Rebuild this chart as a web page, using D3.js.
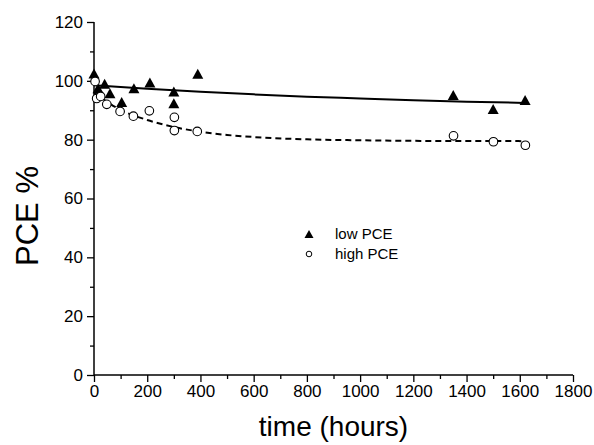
<!DOCTYPE html>
<html>
<head>
<meta charset="utf-8">
<script src="https://cdn.jsdelivr.net/npm/d3@7"></script>
<style>
  body { margin: 0; background: #fff; }
  text { font-family: "Liberation Sans", Arial, sans-serif; fill: #000; }
</style>
</head>
<body>
<svg id="chart"></svg>
<script>
// measured points, [time (h), PCE %]
const lowPCE = [
  [0, 102.5], [15, 97.5], [40, 99], [60, 95.8], [104, 92.8], [150, 97.5],
  [210, 99.4], [300, 96.4], [300, 92.4], [390, 102.4], [1350, 95.2],
  [1500, 90.4], [1620, 93.5]
];
const highPCE = [
  [4, 99.8], [10, 94], [25, 94.7], [48, 92], [98, 89.6], [148, 88],
  [208, 89.8], [302, 87.6], [302, 83.1], [388, 82.8], [1351, 81.3],
  [1501, 79.3], [1621, 78.1]
];
// fitted curves
const lowFit = [
  [0, 98.5], [200, 97.3], [400, 96.3], [600, 95.4], [800, 94.6],
  [1000, 94.0], [1200, 93.4], [1400, 92.9], [1620, 92.5]
];
const highFit = [
  [0, 96], [100, 90.1], [200, 86.7], [300, 84.3], [400, 82.7], [500, 81.6],
  [600, 80.9], [800, 80.1], [1000, 79.8], [1200, 79.6], [1400, 79.55], [1620, 79.5]
];
const xTicks = [0, 200, 400, 600, 800, 1000, 1200, 1400, 1600, 1800];
const yTicks = [0, 20, 40, 60, 80, 100, 120];
const legendLabels = ["low PCE", "high PCE"];

const width = 594, height = 445;
const margin = { top: 22, right: 21, bottom: 70, left: 94 };

const svg = d3.select("#chart").attr("width", width).attr("height", height);

const x = d3.scaleLinear().domain([0, 1800]).range([margin.left, width - margin.right]);
const y = d3.scaleLinear().domain([0, 120]).range([height - margin.bottom, margin.top]);

// minor ticks
const xAxisG = svg.append("g")
  .attr("transform", `translate(0,${y(0)})`)
  .call(d3.axisBottom(x).tickValues(d3.range(100, 1800, 200)).tickSize(4).tickFormat(""));
const yAxisG = svg.append("g")
  .attr("transform", `translate(${x(0)},0)`)
  .call(d3.axisLeft(y).tickValues(d3.range(10, 120, 20)).tickSize(4).tickFormat(""));

// major ticks
const xMajor = svg.append("g")
  .attr("transform", `translate(0,${y(0)})`)
  .call(d3.axisBottom(x).tickValues(xTicks).tickSize(7).tickPadding(3).tickFormat(d3.format("d")));
const yMajor = svg.append("g")
  .attr("transform", `translate(${x(0)},0)`)
  .call(d3.axisLeft(y).tickValues(yTicks).tickSize(7).tickPadding(4).tickFormat(d3.format("d")));

svg.selectAll(".domain").attr("stroke", "#000").attr("stroke-width", 1.5);
svg.selectAll(".tick line").attr("stroke", "#000").attr("stroke-width", 1.3);
svg.selectAll(".tick text").attr("font-size", 17).attr("font-family", "Liberation Sans, Arial, sans-serif");
xAxisG.select(".domain").remove();
yAxisG.select(".domain").remove();
xMajor.select(".domain").attr("d", `M${x(0)},0H${x(1800)}`);
yMajor.select(".domain").attr("d", `M0,${y(0)}V${y(120)}`);

// axis titles
svg.append("text")
  .attr("x", (x(0) + x(1800)) / 2)
  .attr("y", 436)
  .attr("text-anchor", "middle")
  .attr("font-size", 28)
  .text("time (hours)");

svg.append("text")
  .attr("transform", `translate(38,216) rotate(-90)`)
  .attr("text-anchor", "middle")
  .attr("font-size", 31)
  .text("PCE %");

// fit lines
const line = d3.line()
  .x(d => x(d[0]))
  .y(d => y(d[1]))
  .curve(d3.curveMonotoneX);

svg.append("path")
  .datum(lowFit)
  .attr("d", line)
  .attr("fill", "none")
  .attr("stroke", "#000")
  .attr("stroke-width", 2);

svg.append("path")
  .datum(highFit)
  .attr("d", line)
  .attr("fill", "none")
  .attr("stroke", "#000")
  .attr("stroke-width", 2)
  .attr("stroke-dasharray", "6,4");

// markers
function trianglePath(w, h) {
  return `M0,${-h / 2}L${w / 2},${h / 2}L${-w / 2},${h / 2}Z`;
}

svg.append("g")
  .selectAll("path")
  .data(lowPCE)
  .enter()
  .append("path")
  .attr("transform", d => `translate(${x(d[0])},${y(d[1])})`)
  .attr("d", trianglePath(11, 10))
  .attr("fill", "#000");

svg.append("g")
  .selectAll("circle")
  .data(highPCE)
  .enter()
  .append("circle")
  .attr("cx", d => x(d[0]))
  .attr("cy", d => y(d[1]))
  .attr("r", 4.3)
  .attr("fill", "#fff")
  .attr("stroke", "#000")
  .attr("stroke-width", 1.1);

// legend
const legend = svg.append("g").attr("transform", "translate(309,234)");

legend.append("path")
  .attr("d", trianglePath(9, 8))
  .attr("fill", "#000");
legend.append("circle")
  .attr("cy", 20)
  .attr("r", 2.8)
  .attr("fill", "#fff")
  .attr("stroke", "#000")
  .attr("stroke-width", 1);

legend.selectAll(".label")
  .data(legendLabels)
  .enter()
  .append("text")
  .attr("x", 26)
  .attr("y", (d, i) => i * 20 + 5)
  .attr("font-size", 15)
  .text(d => d);
</script>
</body>
</html>
